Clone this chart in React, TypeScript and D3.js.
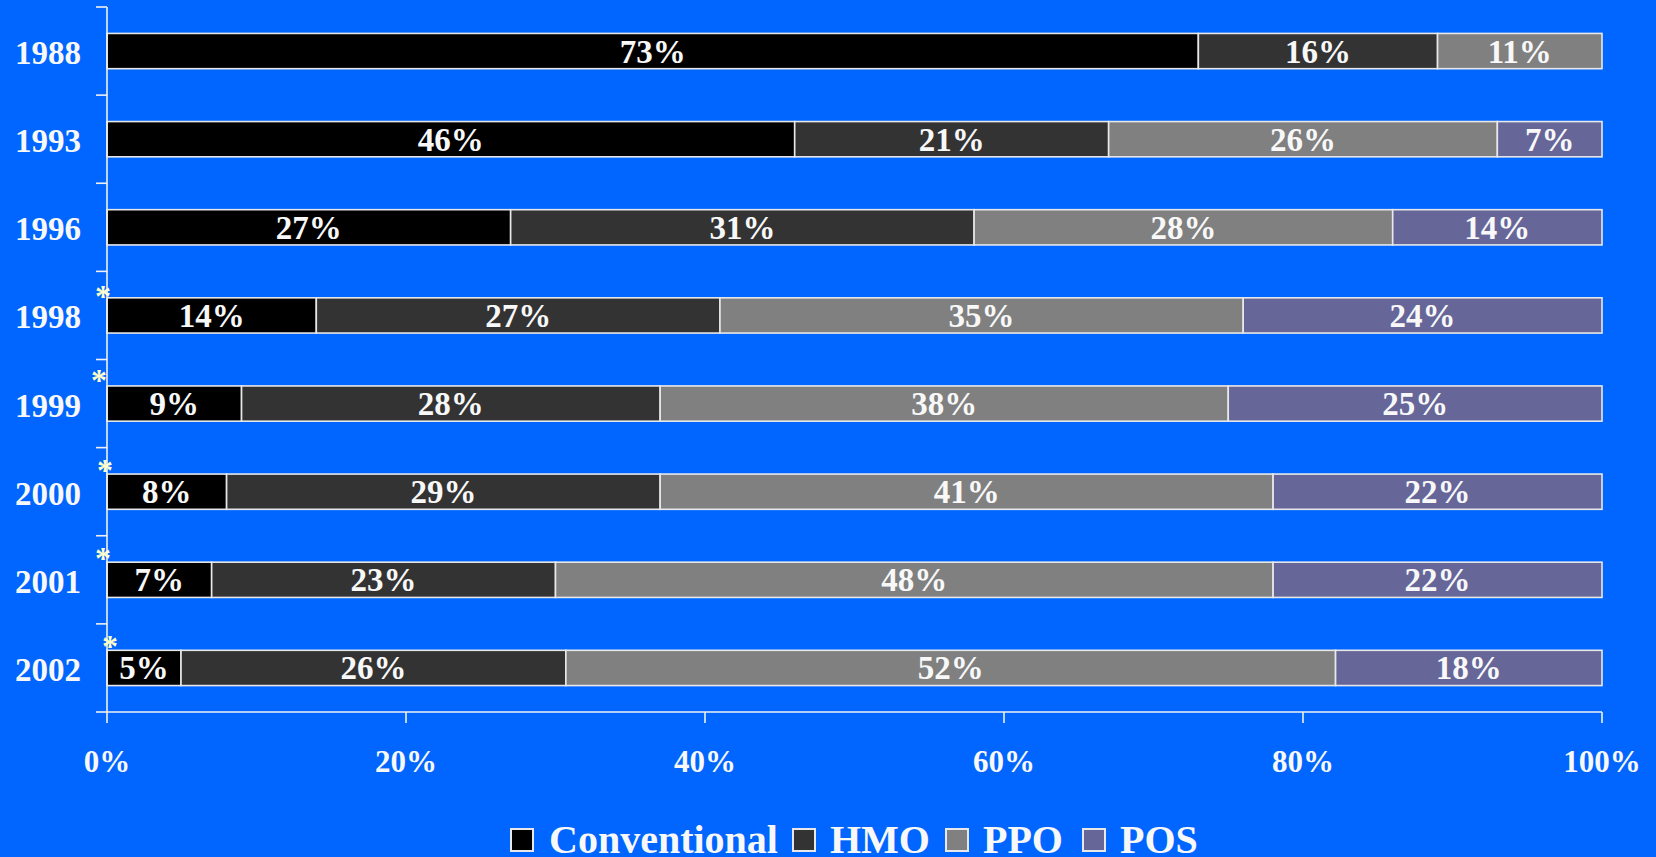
import React from "react";
import * as d3 from "d3";

const years = ["1988", "1993", "1996", "1998", "1999", "2000", "2001", "2002"];
const seriesNames = ["Conventional", "HMO", "PPO", "POS"];
const conventional = [73, 46, 27, 14, 9, 8, 7, 5];
const hmo = [16, 21, 31, 27, 28, 29, 23, 26];
const ppo = [11, 26, 28, 35, 38, 41, 48, 52];
const pos = [0, 7, 14, 24, 25, 22, 22, 18];
const starred = ["1998", "1999", "2000", "2001", "2002"];
const xTicks = [0, 0.2, 0.4, 0.6, 0.8, 1];

const colors = ["#000000", "#333333", "#808080", "#666699"];
const W = 1656;
const H = 857;
const BG = "#0066FF";
const TXT = "#F8F8F8";
const FONT = "'Liberation Serif', 'Times New Roman', serif";

// asterisk offsets (visual jitter from the reference)
const starDx = [-4, -8, -2, -4, 3];
const starDy = [-4, -8, -6, -6, -6];

// legend layout: square x and text x
const legendBoxX = [511, 793, 946, 1083];
const legendTextX = [549, 830, 983, 1120];

export default function App() {
  if (typeof document !== "undefined") document.body.style.margin = "0";
  const x = d3.scaleLinear().domain([0, 1]).range([107, 1602]);
  const y = d3.scaleBand<string>().domain(years).range([7, 712]).paddingInner(0.6).paddingOuter(0.3);
  const step = y.step();
  const table = years.map((yr, i) => ({
    year: yr,
    Conventional: conventional[i],
    HMO: hmo[i],
    PPO: ppo[i],
    POS: pos[i],
  }));
  const stacked = d3
    .stack<any>()
    .keys(seriesNames)
    .offset(d3.stackOffsetExpand)(table);
  const axisY = 712;
  const boundaries = d3.range(years.length + 1).map((i) => 7 + i * step);
  const bh = y.bandwidth();

  return (
    <svg width={W} height={H} style={{ display: "block", position: "absolute", left: 0, top: 0 }}>
      <rect x={0} y={0} width={W} height={H} fill={BG} />
      {/* bars */}
      {stacked.map((series, k) => (
        <g key={series.key}>
          {series.map((d, i) => {
            const v = (table[i] as any)[series.key] as number;
            if (v <= 0) return null;
            const by = y(years[i])!;
            const px0 = x(d[0]);
            const px1 = x(d[1]);
            return (
              <g key={i}>
                <rect x={px0} y={by} width={px1 - px0} height={bh} fill={colors[k]} stroke="#E8E8E8" strokeWidth={1.6} />
                <text
                  x={(px0 + px1) / 2}
                  y={by + bh / 2 + 11.5}
                  textAnchor="middle"
                  fill={TXT}
                  fontFamily={FONT}
                  fontWeight="bold"
                  fontSize={33}
                >
                  {v}%
                </text>
              </g>
            );
          })}
        </g>
      ))}
      {/* y axis */}
      <line x1={107} x2={107} y1={7} y2={axisY} stroke="#F0F0F0" strokeWidth={1.6} />
      {boundaries.map((b, i) => (
        <line key={i} x1={96} x2={107} y1={b} y2={b} stroke="#F0F0F0" strokeWidth={1.6} />
      ))}
      {years.map((yr) => (
        <text
          key={yr}
          x={81}
          y={y(yr)! + bh / 2 + 13}
          textAnchor="end"
          fill={TXT}
          fontFamily={FONT}
          fontWeight="bold"
          fontSize={33}
        >
          {yr}
        </text>
      ))}
      {/* asterisks */}
      {starred.map((yr, i) => (
        <text
          key={yr}
          x={107 + starDx[i]}
          y={y(yr)! + starDy[i] + 13}
          textAnchor="middle"
          fill="#FFFFCC"
          fontFamily={FONT}
          fontWeight="bold"
          fontSize={32}
        >
          *
        </text>
      ))}
      {/* x axis */}
      <line x1={107} x2={1602} y1={axisY} y2={axisY} stroke="#F0F0F0" strokeWidth={1.6} />
      {xTicks.map((t) => (
        <g key={t}>
          <line x1={x(t)} x2={x(t)} y1={axisY} y2={axisY + 11} stroke="#F0F0F0" strokeWidth={1.6} />
          <text x={x(t)} y={772} textAnchor="middle" fill={TXT} fontFamily={FONT} fontWeight="bold" fontSize={31}>
            {d3.format(".0%")(t)}
          </text>
        </g>
      ))}
      {/* legend */}
      {seriesNames.map((name, k) => (
        <g key={name}>
          <rect x={legendBoxX[k]} y={829} width={22} height={22} fill={colors[k]} stroke="#E8E8E8" strokeWidth={2} />
          <text x={legendTextX[k]} y={853} fill={TXT} fontFamily={FONT} fontWeight="bold" fontSize={40}>
            {name}
          </text>
        </g>
      ))}
    </svg>
  );
}
